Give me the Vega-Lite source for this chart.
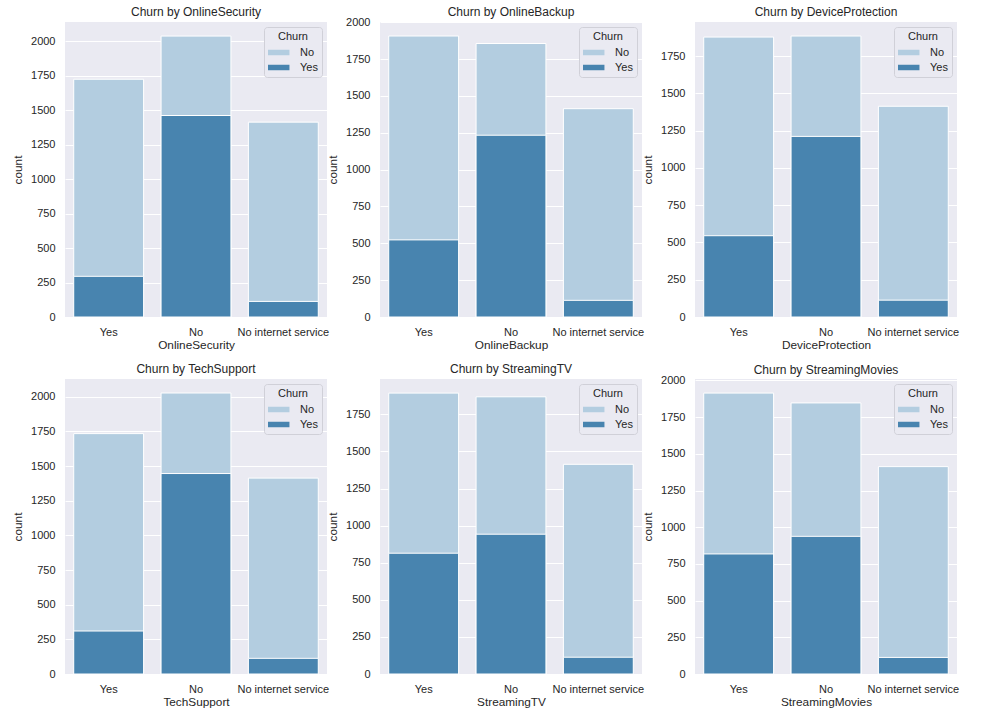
{
  "$schema": "https://vega.github.io/schema/vega-lite/v6.json",
  "padding": {"left": 12, "top": 6, "right": 5, "bottom": 5},
  "background": "white",
  "datasets": {
    "churn": [
      {"feature": "OnlineSecurity", "category": "Yes", "churn": "No", "count": 1724},
      {"feature": "OnlineSecurity", "category": "No", "churn": "No", "count": 2037},
      {"feature": "OnlineSecurity", "category": "No internet service", "churn": "No", "count": 1413},
      {"feature": "OnlineSecurity", "category": "Yes", "churn": "Yes", "count": 295},
      {"feature": "OnlineSecurity", "category": "No", "churn": "Yes", "count": 1461},
      {"feature": "OnlineSecurity", "category": "No internet service", "churn": "Yes", "count": 113},
      {"feature": "OnlineBackup", "category": "Yes", "churn": "No", "count": 1906},
      {"feature": "OnlineBackup", "category": "No", "churn": "No", "count": 1855},
      {"feature": "OnlineBackup", "category": "No internet service", "churn": "No", "count": 1413},
      {"feature": "OnlineBackup", "category": "Yes", "churn": "Yes", "count": 523},
      {"feature": "OnlineBackup", "category": "No", "churn": "Yes", "count": 1233},
      {"feature": "OnlineBackup", "category": "No internet service", "churn": "Yes", "count": 113},
      {"feature": "DeviceProtection", "category": "Yes", "churn": "No", "count": 1877},
      {"feature": "DeviceProtection", "category": "No", "churn": "No", "count": 1884},
      {"feature": "DeviceProtection", "category": "No internet service", "churn": "No", "count": 1413},
      {"feature": "DeviceProtection", "category": "Yes", "churn": "Yes", "count": 545},
      {"feature": "DeviceProtection", "category": "No", "churn": "Yes", "count": 1211},
      {"feature": "DeviceProtection", "category": "No internet service", "churn": "Yes", "count": 113},
      {"feature": "TechSupport", "category": "Yes", "churn": "No", "count": 1734},
      {"feature": "TechSupport", "category": "No", "churn": "No", "count": 2027},
      {"feature": "TechSupport", "category": "No internet service", "churn": "No", "count": 1413},
      {"feature": "TechSupport", "category": "Yes", "churn": "Yes", "count": 310},
      {"feature": "TechSupport", "category": "No", "churn": "Yes", "count": 1446},
      {"feature": "TechSupport", "category": "No internet service", "churn": "Yes", "count": 113},
      {"feature": "StreamingTV", "category": "Yes", "churn": "No", "count": 1893},
      {"feature": "StreamingTV", "category": "No", "churn": "No", "count": 1868},
      {"feature": "StreamingTV", "category": "No internet service", "churn": "No", "count": 1413},
      {"feature": "StreamingTV", "category": "Yes", "churn": "Yes", "count": 814},
      {"feature": "StreamingTV", "category": "No", "churn": "Yes", "count": 942},
      {"feature": "StreamingTV", "category": "No internet service", "churn": "Yes", "count": 113},
      {"feature": "StreamingMovies", "category": "Yes", "churn": "No", "count": 1914},
      {"feature": "StreamingMovies", "category": "No", "churn": "No", "count": 1847},
      {"feature": "StreamingMovies", "category": "No internet service", "churn": "No", "count": 1413},
      {"feature": "StreamingMovies", "category": "Yes", "churn": "Yes", "count": 818},
      {"feature": "StreamingMovies", "category": "No", "churn": "Yes", "count": 938},
      {"feature": "StreamingMovies", "category": "No internet service", "churn": "Yes", "count": 113}
    ]
  },
  "data": {"name": "churn"},
  "spacing": 12,
  "vconcat": [
    {
      "spacing": -2,
      "resolve": {"scale": {"x": "independent", "y": "independent", "color": "independent"}, "legend": {"color": "independent"}},
      "hconcat": [
        {
          "title": "Churn by OnlineSecurity",
          "width": 262, "height": 295,
          "transform": [{"filter": "datum.feature === 'OnlineSecurity'"}],
          "mark": {"type": "bar", "stroke": "white", "strokeWidth": 1},
          "encoding": {
            "x": {"field": "category", "type": "nominal", "sort": ["Yes", "No", "No internet service"], "title": "OnlineSecurity", "scale": {"paddingInner": 0.2, "paddingOuter": 0.1}},
            "y": {"field": "count", "type": "quantitative", "stack": null, "title": "count", "scale": {"domain": [0, 2139], "nice": false}, "axis": {"values": [0, 250, 500, 750, 1000, 1250, 1500, 1750, 2000]}},
            "color": {"field": "churn", "type": "nominal", "title": "Churn", "scale": {"domain": ["No", "Yes"], "range": ["#b3cde0", "#4884af"]}, "legend": {"orient": "top-right"}}
          }
        },
        {
          "title": {"text": "Churn by OnlineBackup", "offset": -3},
          "width": 262, "height": 295,
          "transform": [{"filter": "datum.feature === 'OnlineBackup'"}],
          "mark": {"type": "bar", "stroke": "white", "strokeWidth": 1},
          "encoding": {
            "x": {"field": "category", "type": "nominal", "sort": ["Yes", "No", "No internet service"], "title": "OnlineBackup", "scale": {"paddingInner": 0.2, "paddingOuter": 0.1}},
            "y": {"field": "count", "type": "quantitative", "stack": null, "title": "count", "scale": {"domain": [0, 2001], "nice": false}, "axis": {"values": [0, 250, 500, 750, 1000, 1250, 1500, 1750, 2000]}},
            "color": {"field": "churn", "type": "nominal", "title": "Churn", "scale": {"domain": ["No", "Yes"], "range": ["#b3cde0", "#4884af"]}, "legend": {"orient": "top-right"}}
          }
        },
        {
          "title": "Churn by DeviceProtection",
          "width": 262, "height": 295,
          "transform": [{"filter": "datum.feature === 'DeviceProtection'"}],
          "mark": {"type": "bar", "stroke": "white", "strokeWidth": 1},
          "encoding": {
            "x": {"field": "category", "type": "nominal", "sort": ["Yes", "No", "No internet service"], "title": "DeviceProtection", "scale": {"paddingInner": 0.2, "paddingOuter": 0.1}},
            "y": {"field": "count", "type": "quantitative", "stack": null, "title": "count", "scale": {"domain": [0, 1978], "nice": false}, "axis": {"values": [0, 250, 500, 750, 1000, 1250, 1500, 1750]}},
            "color": {"field": "churn", "type": "nominal", "title": "Churn", "scale": {"domain": ["No", "Yes"], "range": ["#b3cde0", "#4884af"]}, "legend": {"orient": "top-right"}}
          }
        }
      ]
    },
    {
      "spacing": -2,
      "resolve": {"scale": {"x": "independent", "y": "independent", "color": "independent"}, "legend": {"color": "independent"}},
      "hconcat": [
        {
          "title": "Churn by TechSupport",
          "width": 262, "height": 295,
          "transform": [{"filter": "datum.feature === 'TechSupport'"}],
          "mark": {"type": "bar", "stroke": "white", "strokeWidth": 1},
          "encoding": {
            "x": {"field": "category", "type": "nominal", "sort": ["Yes", "No", "No internet service"], "title": "TechSupport", "scale": {"paddingInner": 0.2, "paddingOuter": 0.1}},
            "y": {"field": "count", "type": "quantitative", "stack": null, "title": "count", "scale": {"domain": [0, 2128], "nice": false}, "axis": {"values": [0, 250, 500, 750, 1000, 1250, 1500, 1750, 2000]}},
            "color": {"field": "churn", "type": "nominal", "title": "Churn", "scale": {"domain": ["No", "Yes"], "range": ["#b3cde0", "#4884af"]}, "legend": {"orient": "top-right"}}
          }
        },
        {
          "title": "Churn by StreamingTV",
          "width": 262, "height": 295,
          "transform": [{"filter": "datum.feature === 'StreamingTV'"}],
          "mark": {"type": "bar", "stroke": "white", "strokeWidth": 1},
          "encoding": {
            "x": {"field": "category", "type": "nominal", "sort": ["Yes", "No", "No internet service"], "title": "StreamingTV", "scale": {"paddingInner": 0.2, "paddingOuter": 0.1}},
            "y": {"field": "count", "type": "quantitative", "stack": null, "title": "count", "scale": {"domain": [0, 1988], "nice": false}, "axis": {"values": [0, 250, 500, 750, 1000, 1250, 1500, 1750]}},
            "color": {"field": "churn", "type": "nominal", "title": "Churn", "scale": {"domain": ["No", "Yes"], "range": ["#b3cde0", "#4884af"]}, "legend": {"orient": "top-right"}}
          }
        },
        {
          "title": {"text": "Churn by StreamingMovies", "offset": -3},
          "width": 262, "height": 295,
          "transform": [{"filter": "datum.feature === 'StreamingMovies'"}],
          "mark": {"type": "bar", "stroke": "white", "strokeWidth": 1},
          "encoding": {
            "x": {"field": "category", "type": "nominal", "sort": ["Yes", "No", "No internet service"], "title": "StreamingMovies", "scale": {"paddingInner": 0.2, "paddingOuter": 0.1}},
            "y": {"field": "count", "type": "quantitative", "stack": null, "title": "count", "scale": {"domain": [0, 2010], "nice": false}, "axis": {"values": [0, 250, 500, 750, 1000, 1250, 1500, 1750, 2000]}},
            "color": {"field": "churn", "type": "nominal", "title": "Churn", "scale": {"domain": ["No", "Yes"], "range": ["#b3cde0", "#4884af"]}, "legend": {"orient": "top-right"}}
          }
        }
      ]
    }
  ],
  "resolve": {"scale": {"x": "independent", "y": "independent", "color": "independent"}, "legend": {"color": "independent"}},
  "config": {
    "font": "Liberation Sans",
    "view": {"fill": "#EAEAF2", "stroke": null},
    "axis": {
      "domain": false, "ticks": false,
      "gridColor": "white", "gridWidth": 1, "gridOpacity": 1,
      "labelFont": "Liberation Sans", "labelFontSize": 11, "labelColor": "#262626", "labelPadding": 10,
      "titleFont": "Liberation Sans", "titleFontSize": 11.8, "titleFontWeight": "normal", "titleColor": "#262626", "titlePadding": 4
    },
    "axisX": {"grid": false, "labelAngle": 0, "labelPadding": 9, "titlePadding": 2},
    "axisY": {"titlePadding": 7, "format": "d"},
    "title": {"font": "Liberation Sans", "fontSize": 12, "fontWeight": "normal", "color": "#262626", "offset": 3},
    "legend": {
      "offset": 5,
      "fillColor": "#EAEAF2", "strokeColor": "#D0D0D8", "cornerRadius": 3, "padding": 4,
      "titleFont": "Liberation Sans", "titleFontSize": 11, "titleFontWeight": "normal", "titleColor": "#262626", "titleAnchor": "middle", "titlePadding": 5,
      "labelFont": "Liberation Sans", "labelFontSize": 11, "labelColor": "#262626", "labelOffset": 21,
      "symbolType": "M-1,-0.5H2.9V0.5H-1Z", "symbolSize": 121, "symbolStrokeWidth": 0, "rowPadding": 3
    }
  }
}
